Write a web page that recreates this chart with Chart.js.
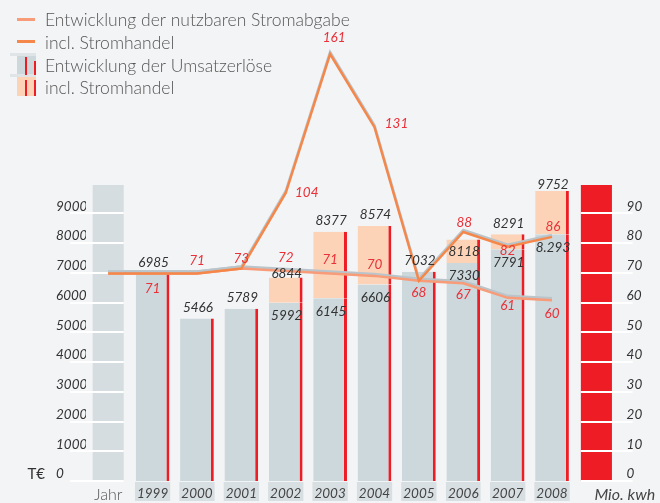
<!DOCTYPE html>
<html lang="de">
<head>
<meta charset="utf-8">
<title>Umsatzerlöse und Stromabgabe</title>
<script src="https://cdn.jsdelivr.net/npm/chart.js@4.4.1/dist/chart.umd.min.js"></script>
<style>
  html, body { margin: 0; padding: 0; background: #f3f4f6; }
  canvas { display: block; }
</style>
</head>
<body>
<canvas id="chart" width="660" height="503"></canvas>
<script>
const years = ['1999', '2000', '2001', '2002', '2003', '2004', '2005', '2006', '2007', '2008'];
const revenue = [6985, 5466, 5789, 5992, 6145, 6606, 7032, 7330, 7791, 8293];          // Umsatzerlöse, T€
const revenueInclTrade = [null, null, null, 6844, 8377, 8574, null, 8118, 8291, 9752];  // incl. Stromhandel, T€
const delivery = [71, 71, 73, 72, 71, 70, 68, 67, 61, 60];                              // nutzbare Stromabgabe, Mio. kwh
const deliveryInclTrade = [71, 71, 73, 104, 161, 131, 68, 88, 82, 86];                  // incl. Stromhandel, Mio. kwh
const lineStart = 71;     // both lines start at the "Jahr" column at this level
const columnTop = 9950;   // the two axis columns (Jahr / Mio. kwh)
const leftTicks = [0, 1000, 2000, 3000, 4000, 5000, 6000, 7000, 8000, 9000];
const rightTicks = [0, 10, 20, 30, 40, 50, 60, 70, 80, 90];

// colours
const RED = '#ee1c25', GRAY = '#cdd8dc', PEACH = '#fdd3b7', COLUMN = '#d6dde0';
const ORANGE = '#f5874a', SALMON = '#f79b78', SHADOW = '#b9c5cb';
const FONT = "Lato, 'Open Sans', sans-serif";

// label placement (pixels, relative to the mark)
const lowerLabelDy = [15, -13, -10, -13, -14, -11, 12, 11, 8, 13];
const upperLabelShift = { '2002': [21, 0], '2003': [4, -16], '2004': [22, -4], '2006': [1, -9], '2007': [0, 4], '2008': [1, -10] };
const totalLabelDy = { '2002': -4, '2006': 12, '2008': -6 };

const categories = ['Jahr', ...years, 'Mio. kwh'];
const tradePart = revenueInclTrade.map((v, i) => v == null ? null : v - revenue[i]);
const pad = arr => [null, ...arr, null];

function txt(ctx, s, x, y, font, color, align) {
    ctx.font = font;
    ctx.fillStyle = color;
    ctx.textAlign = align || 'center';
    ctx.textBaseline = 'middle';
    ctx.fillText(s, x, y);
}

// white tick lines only across the two axis columns
const gridSegments = {
    id: 'gridSegments',
    afterDatasetDraw(chart, args) {
        if (args.index !== 4) return;
        const { ctx, chartArea, scales: { y } } = chart;
        const col = chart.getDatasetMeta(4).data;
        const l = col[0], r = col[11];
        ctx.save();
        ctx.strokeStyle = '#ffffff';
        ctx.lineWidth = 2;
        leftTicks.forEach(v => {
            const py = Math.round(y.getPixelForValue(v));
            ctx.beginPath();
            ctx.moveTo(y.left + 14, py);
            ctx.lineTo(l.x + l.width / 2, py);
            ctx.moveTo(r.x - r.width / 2, py);
            ctx.lineTo(chartArea.right + 14, py);
            ctx.stroke();
        });
        ctx.restore();
    }
};

// grey shadow under both lines
const lineShadow = {
    id: 'lineShadow',
    beforeDatasetDraw(chart, args) {
        if (chart.data.datasets[args.index].type !== 'line') return;
        const ctx = chart.ctx;
        ctx.save();
        ctx.shadowColor = SHADOW;
        ctx.shadowOffsetY = -2;
        ctx.shadowBlur = 0;
    },
    afterDatasetDraw(chart, args) {
        if (chart.data.datasets[args.index].type !== 'line') return;
        chart.ctx.restore();
    }
};

// value labels
const valueLabels = {
    id: 'valueLabels',
    afterDatasetsDraw(chart) {
        const ctx = chart.ctx;
        const upper = chart.getDatasetMeta(0).data;
        const lower = chart.getDatasetMeta(1).data;
        const gray = chart.getDatasetMeta(2).data;
        const peach = chart.getDatasetMeta(3).data;
        const numFont = 'italic 13.5px ' + FONT;
        ctx.save();
        years.forEach((yr, i) => {
            const k = i + 1;
            const g = gray[k];
            const cx = g.x + 1;
            const grayText = yr === '2008' ? revenue[i].toLocaleString('de-DE') : String(revenue[i]);
            if (revenueInclTrade[i] != null) {
                txt(ctx, grayText, cx, g.y + 13, numFont, '#333');
                const dy = totalLabelDy[yr] != null ? totalLabelDy[yr] : -11;
                txt(ctx, String(revenueInclTrade[i]), cx, peach[k].y + dy, numFont, '#333');
            } else {
                txt(ctx, grayText, cx, g.y - 11, numFont, '#333');
            }
            const lp = lower[k];
            txt(ctx, String(delivery[i]), lp.x, lp.y + lowerLabelDy[i], numFont, '#ea3038');
            if (deliveryInclTrade[i] !== delivery[i]) {
                const up = upper[k];
                const s = upperLabelShift[yr] || [0, -10];
                txt(ctx, String(deliveryInclTrade[i]), up.x + s[0], up.y + s[1], numFont, '#ea3038');
            }
        });
        // unit captions
        const y = chart.scales.y;
        txt(ctx, 'T€', y.left - 11, y.getPixelForValue(0) - 7, '15px ' + FONT, '#333', 'right');
        const x = chart.scales.x;
        txt(ctx, 'Mio. kwh', x.getPixelForValue(11) - 2, 495, 'italic 16px ' + FONT, '#444', 'left');
        ctx.restore();
    }
};

// legend in the upper left corner
const legendBlock = {
    id: 'legendBlock',
    afterDraw(chart) {
        const ctx = chart.ctx;
        const font = '300 17.5px ' + FONT;
        const col = '#555';
        ctx.save();
        ctx.lineWidth = 3;
        ctx.strokeStyle = SALMON;
        ctx.beginPath(); ctx.moveTo(17, 19.5); ctx.lineTo(35, 19.5); ctx.stroke();
        ctx.strokeStyle = ORANGE;
        ctx.beginPath(); ctx.moveTo(17, 41.5); ctx.lineTo(35, 41.5); ctx.stroke();
        // bar icons
        ctx.fillStyle = '#dfe4e7'; ctx.fillRect(10, 53, 26, 3);
        ctx.fillStyle = GRAY; ctx.fillRect(17, 56, 19, 19);
        ctx.fillStyle = '#dfe4e7'; ctx.fillRect(10, 74, 26, 3);
        ctx.fillStyle = PEACH; ctx.fillRect(17, 77, 19, 19);
        ctx.fillStyle = RED;
        ctx.fillRect(25, 57, 2, 18); ctx.fillRect(34, 61, 2, 14);
        ctx.fillRect(25, 80, 2, 16); ctx.fillRect(34, 80, 2, 16);
        txt(ctx, 'Entwicklung der nutzbaren Stromabgabe', 45, 20.5, font, col, 'left');
        txt(ctx, 'incl. Stromhandel', 45, 43, font, col, 'left');
        txt(ctx, 'Entwicklung der Umsatzerlöse', 45, 66, font, col, 'left');
        txt(ctx, 'incl. Stromhandel', 45, 88.5, font, col, 'left');
        ctx.restore();
    }
};

const barBorder = { top: 0, right: 3, bottom: 0, left: 0 };

new Chart(document.getElementById('chart'), {
    type: 'bar',
    data: {
        labels: categories,
        datasets: [
            {
                type: 'line',
                label: 'incl. Stromhandel',
                data: [lineStart, ...deliveryInclTrade, null],
                yAxisID: 'yLine',
                borderColor: ORANGE,
                borderWidth: 2.5,
                pointRadius: 0,
                tension: 0,
                clip: false,
                order: 0
            },
            {
                type: 'line',
                label: 'Entwicklung der nutzbaren Stromabgabe',
                data: [lineStart, ...delivery, null],
                yAxisID: 'yLine',
                borderColor: SALMON,
                borderWidth: 2.5,
                pointRadius: 0,
                tension: 0,
                clip: false,
                order: 1
            },
            {
                label: 'Entwicklung der Umsatzerlöse',
                data: pad(revenue),
                backgroundColor: GRAY,
                borderColor: RED,
                borderWidth: barBorder,
                borderSkipped: false,
                barPercentage: 0.76,
                categoryPercentage: 1,
                order: 2
            },
            {
                label: 'incl. Stromhandel',
                data: pad(tradePart),
                backgroundColor: PEACH,
                borderColor: RED,
                borderWidth: barBorder,
                borderSkipped: false,
                barPercentage: 0.76,
                categoryPercentage: 1,
                order: 3
            },
            {
                label: 'Achsen',
                data: [columnTop, ...years.map(() => null), columnTop],
                backgroundColor: [COLUMN, ...years.map(() => COLUMN), RED],
                borderWidth: 0,
                barPercentage: 0.7,
                categoryPercentage: 1,
                order: 4
            }
        ]
    },
    options: {
        responsive: false,
        animation: false,
        events: [],
        layout: { padding: { top: 183.5, left: 56, right: 0, bottom: 0 } },
        plugins: {
            legend: { display: false },
            tooltip: { enabled: false }
        },
        scales: {
            x: {
                stacked: true,
                grid: { display: false, drawTicks: false },
                border: { display: false },
                afterFit: s => { s.height = 22; },
                ticks: {
                    autoSkip: false,
                    maxRotation: 0,
                    padding: 6,
                    showLabelBackdrop: true,
                    backdropPadding: { top: 5, bottom: 0.5, left: 2, right: 2 },
                    backdropColor: c => (c.index === 0 || c.index === 11) ? 'rgba(0,0,0,0)' : '#d8dfe2',
                    font: c => c.index === 0
                        ? { family: FONT, size: 16, weight: 300, style: 'normal', lineHeight: 1 }
                        : { family: FONT, size: 13.5, style: 'italic', lineHeight: 1 },
                    color: c => c.index === 0 ? '#555' : '#444',
                    callback: (v, i) => i === 11 ? '' : categories[i]
                }
            },
            y: {
                position: 'left',
                stacked: true,
                min: 0,
                max: 10000,
                grid: { display: false },
                border: { display: false },
                afterFit: s => { s.width = 30; },
                afterBuildTicks: s => { s.ticks = leftTicks.map(v => ({ value: v })); },
                ticks: {
                    crossAlign: 'far',
                    padding: 0,
                    labelOffset: -7,
                    color: '#333',
                    font: { family: FONT, size: 13.5, style: 'italic' },
                    callback: v => String(v)
                }
            },
            y1: {
                position: 'right',
                min: 0,
                max: 100,
                grid: { display: false },
                border: { display: false },
                afterFit: s => { s.width = 41.4; },
                afterBuildTicks: s => { s.ticks = rightTicks.map(v => ({ value: v })); },
                ticks: {
                    padding: 0,
                    labelOffset: -7,
                    color: '#333',
                    font: { family: FONT, size: 13.5, style: 'italic' },
                    callback: v => String(v)
                }
            },
            yLine: {
                display: false,
                min: -14.15,
                max: 107.9
            }
        }
    },
    plugins: [gridSegments, lineShadow, valueLabels, legendBlock]
});
</script>
</body>
</html>
